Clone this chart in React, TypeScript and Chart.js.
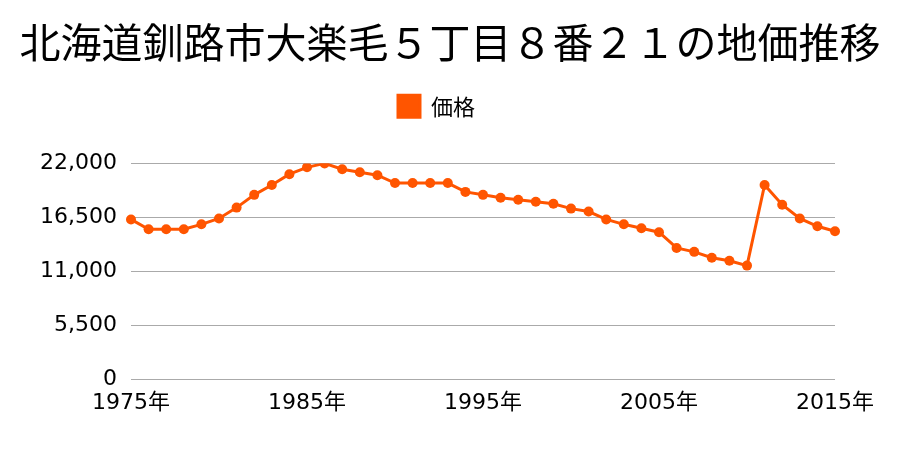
import React, { useEffect, useRef } from "react";
import { Chart, registerables } from "chart.js";

Chart.register(...registerables);

const years: string[] = [
  "1975", "1976", "1977", "1978", "1979", "1980", "1981", "1982", "1983", "1984",
  "1985", "1986", "1987", "1988", "1989", "1990", "1991", "1992", "1993", "1994",
  "1995", "1996", "1997", "1998", "1999", "2000", "2001", "2002", "2003", "2004",
  "2005", "2006", "2007", "2008", "2009", "2010", "2011", "2012", "2013", "2014", "2015",
];

const prices: number[] = [
  16300, 15300, 15300, 15300, 15800, 16400, 17500, 18800, 19800, 20900,
  21600, 22000, 21400, 21100, 20800, 20000, 20000, 20000, 20000, 19100,
  18800, 18500, 18300, 18100, 17900, 17400, 17100, 16300, 15800, 15400,
  15000, 13400, 13000, 12400, 12100, 11600, 19800, 17800, 16400, 15600, 15100,
];

const titleText = "北海道釧路市大楽毛５丁目８番２１の地価推移";
const seriesLabel = "価格";
const shownYears = ["1975", "1985", "1995", "2005", "2015"];

const CJK = "'Noto Sans CJK JP', 'Noto Sans', sans-serif";
const NUM = "'DejaVu Sans', 'Noto Sans CJK JP', sans-serif";
const COLOR = "#FF5500";

const legendShift = {
  id: "legendShift",
  afterLayout(chart: any) {
    if (chart.legend) chart.legend.left -= 27;
  },
};

export default function App() {
  const ref = useRef<HTMLCanvasElement | null>(null);

  useEffect(() => {
    document.body.style.margin = "0";
    const canvas = ref.current;
    if (!canvas) return;
    const chart = new Chart(canvas, {
      type: "line",
      data: {
        labels: years,
        datasets: [
          {
            label: seriesLabel,
            data: prices,
            borderColor: COLOR,
            backgroundColor: COLOR,
            borderWidth: 3,
            pointRadius: 5,
            pointHoverRadius: 5,
            pointBackgroundColor: COLOR,
            pointBorderWidth: 0,
            tension: 0,
            yAxisID: "y",
          },
        ],
      },
      plugins: [legendShift],
      options: {
        animation: false,
        responsive: false,
        maintainAspectRatio: false,
        layout: { padding: { left: 0, right: 0, top: 0, bottom: 24 } },
        plugins: {
          title: {
            display: true,
            text: titleText,
            color: "#000",
            font: { family: CJK, size: 41, weight: "normal" },
            padding: { top: 18, bottom: 16 },
          },
          subtitle: {
            display: true,
            text: "",
            weight: 500,
            font: { size: 1 },
            padding: { top: 35, bottom: 0 },
          } as any,
          legend: {
            display: true,
            labels: {
              boxWidth: 22,
              boxHeight: 22,
              color: "#000",
              font: { family: CJK, size: 22 },
              padding: 12,
            },
          },
          tooltip: { enabled: false },
        },
        scales: {
          x: {
            grid: { display: false, drawTicks: false },
            border: { display: false },
            ticks: {
              autoSkip: false,
              maxRotation: 0,
              color: "#000",
              padding: 10,
              font: { family: NUM, size: 22 },
              callback: function (_v: any, i: number) {
                const y = years[i];
                return shownYears.includes(y) ? y + "年" : "";
              },
            },
          },
          y: {
            min: 0,
            max: 22000,
            afterFit: (s: any) => {
              s.width = 131;
            },
            grid: { color: "#aaaaaa", lineWidth: 1, drawTicks: false },
            border: { display: false },
            ticks: {
              stepSize: 5500,
              color: "#000",
              padding: 14,
              font: { family: NUM, size: 22 },
              callback: (v: any) => Number(v).toLocaleString("en-US"),
            },
          },
          yRight: {
            position: "right",
            display: true,
            afterFit: (s: any) => {
              s.width = 65;
            },
            grid: { display: false, drawTicks: false },
            border: { display: false },
            ticks: { display: false },
          },
        },
      },
    });
    return () => chart.destroy();
  }, []);

  return (
    <div style={{ width: 900, height: 450 }}>
      <canvas ref={ref} width={900} height={450} style={{ display: "block" }} />
    </div>
  );
}
